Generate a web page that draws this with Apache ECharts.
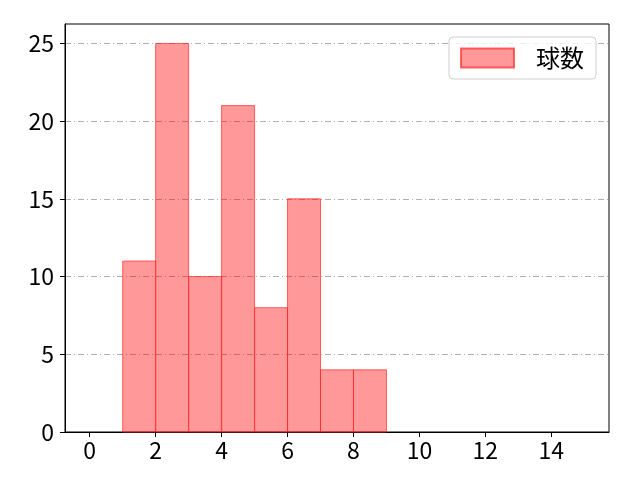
<!DOCTYPE html>
<html>
<head>
<meta charset="utf-8">
<script src="https://cdn.jsdelivr.net/npm/echarts@6/dist/echarts.min.js"></script>
<style>
html,body{margin:0;padding:0;background:#fff;}
#main{width:640px;height:480px;}
</style>
</head>
<body>
<div id="main"></div>
<script>
// ヒストグラムのデータ
var binStart = [1, 2, 3, 4, 5, 6, 7, 8];
var binEnd = [2, 3, 4, 5, 6, 7, 8, 9];
var counts = [11, 25, 10, 21, 8, 15, 4, 4];
var xTicks = [0, 2, 4, 6, 8, 10, 12, 14];
var yTicks = [0, 5, 10, 15, 20, 25];
var seriesName = '球数';

var FONT = '"Noto Sans CJK JP", "DejaVu Sans", sans-serif';

var chart = echarts.init(document.getElementById('main'));

var data = [];
for (var i = 0; i < counts.length; i++) {
	data.push([binStart[i], binEnd[i], counts[i]]);
}

var option = {
	animation: false,
	backgroundColor: '#fff',
	grid: {
		left: 65, right: 31, top: 24, bottom: 48,
		show: true, borderColor: '#000', borderWidth: 1
	},
	legend: {
		right: 44, top: 37,
		data: [seriesName],
		icon: 'rect',
		itemWidth: 53, itemHeight: 19,
		padding: [9, 12, 9, 11],
		backgroundColor: 'rgba(255,255,255,0.8)',
		borderColor: '#d0d0d0', borderWidth: 1, borderRadius: 4,
		textStyle: {fontFamily: FONT, fontSize: 24, color: '#000', padding: [0, 0, 0, 17]}
	},
	xAxis: {
		type: 'value',
		min: -0.75, max: 15.75,
		axisLine: {lineStyle: {color: '#000'}},
		axisTick: {show: true, customValues: xTicks, length: 5, lineStyle: {color: '#000'}},
		axisLabel: {customValues: xTicks, fontFamily: FONT, fontSize: 23, color: '#000', margin: 7},
		splitLine: {show: false}
	},
	yAxis: {
		type: 'value',
		min: 0, max: 26.25, interval: 5,
		axisLine: {show: true, onZero: false, lineStyle: {color: '#000'}},
		axisTick: {show: true, customValues: yTicks, length: 5, lineStyle: {color: '#000'}},
		axisLabel: {showMaxLabel: false, fontFamily: FONT, fontSize: 23, color: '#000', margin: 11},
		splitLine: {show: true, lineStyle: {color: '#b0b0b0', width: 1, type: [6, 3, 1, 3]}}
	},
	series: [{
		name: seriesName,
		type: 'custom',
		itemStyle: {color: 'rgba(255,0,0,0.4)', borderColor: 'rgba(255,40,40,0.7)', borderWidth: 1},
		renderItem: function (params, api) {
			var p0 = api.coord([api.value(0), api.value(2)]);
			var p1 = api.coord([api.value(1), 0]);
			return {
				type: 'rect',
				shape: {x: p0[0], y: p0[1], width: p1[0] - p0[0], height: p1[1] - p0[1]},
				style: {fill: 'rgba(255,0,0,0.4)', stroke: 'rgba(255,40,40,0.7)', lineWidth: 1}
			};
		},
		encode: {x: [0, 1], y: 2},
		data: data
	}]
};

chart.setOption(option);
</script>
</body>
</html>
